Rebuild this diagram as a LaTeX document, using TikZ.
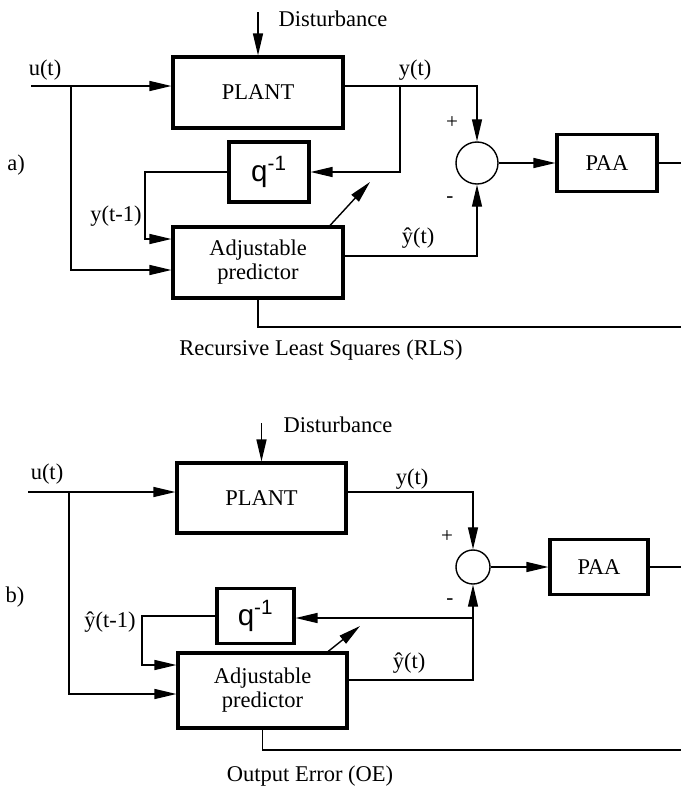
\documentclass[tikz,border=0pt]{standalone}
\usepackage{fontspec}
\setmainfont{Liberation Serif}
\setsansfont{Liberation Sans}
\usetikzlibrary{arrows.meta}
\tikzset{
  blk/.style={draw, line width=2.2pt, align=center, inner sep=0pt},
  lbl/.style={inner sep=0pt},
  sgn/.style={inner sep=0pt, font=\fontsize{15}{17}\selectfont},
  sumnode/.style={draw, circle, inner sep=0pt},
  qtext/.style={font=\fontsize{21}{24}\selectfont\sffamily},
}
\begin{document}
\begin{tikzpicture}[x=0.025cm, y=-0.025cm, line width=1pt, font=\fontsize{16}{17}\selectfont,
	>={Triangle[length=0.55cm,width=0.25cm]}]
	\useasboundingbox (0,0) rectangle (681,789);
	% a) recursive least squares
	\path
	(31,86) coordinate (uA)
	(71,86) coordinate (brA)
	(71,270) coordinate (lowA)
	(258,12) coordinate (dA)
	(400,86) coordinate (yjA)
	(145,239) coordinate (kA)
	(477,256) coordinate (hA)
	(370,182) coordinate (tA)
	(681,163) coordinate (oA)
	(681,327) coordinate (bA)
	;
	\node[blk, minimum width=4.25cm, minimum height=1.775cm] (plantA) at (258,92.5) {PLANT};
	\node[blk, minimum width=4.25cm, minimum height=1.775cm] (adjA) at (258,262.5) {Adjustable\\predictor};
	\node[blk, qtext, minimum width=2cm, minimum height=1.5cm] (qA) at (269,172) {q\textsuperscript{-1}};
	\node[sumnode, minimum size=1.05cm] (sumA) at (477,163) {};
	\node[blk, minimum width=2.5cm, minimum height=1.425cm] (paaA) at (607,163) {PAA};
	\draw[->] (dA) -- (plantA.north);
	\draw[->] (uA) -- (uA -| plantA.west);
	\draw[->] (brA) -- (lowA) -- (lowA -| adjA.west);
	\draw[->] (uA -| plantA.east) -| (sumA.north);
	\draw[->] (yjA) |- (qA.east);
	\draw[->] (qA.west) -| (kA) -- (kA -| adjA.west);
	\draw[->] ([xshift=1.8cm]adjA.north) -- (tA);
	\draw[->] (hA -| adjA.east) -- (hA) -- (sumA.south);
	\draw[->] (sumA.east) -- (paaA.west);
	\draw (paaA.east) -- (oA);
	\draw (adjA.south) |- (bA);
	\node[lbl, anchor=west] (disA) at (278,19) {Disturbance};
	\node[lbl] (ulA) at (45,70) {u(t)};
	\node[lbl] (ylA) at (415,70) {y(t)};
	\node[lbl] (y1A) at (116,216) {y(t-1)};
	\node[lbl] (yhA) at (418,238) {\^{y}(t)};
	\node[sgn] (pA) at (452,123) {+};
	\node[sgn] (mA) at (450,200) {-};
	\node[lbl] (tagA) at (16,165) {a)};
	\node[lbl] (capA) at (321,350) {Recursive Least Squares (RLS)};
	% b) output error
	\path
	(28,492) coordinate (uB)
	(69,492) coordinate (brB)
	(69,694) coordinate (lowB)
	(261.5,423) coordinate (dB)
	(473,618) coordinate (jB)
	(142,665) coordinate (kB)
	(473,680) coordinate (hB)
	(360,626) coordinate (tB)
	(681,567) coordinate (oB)
	(681,750) coordinate (bB)
	;
	\node[blk, minimum width=4.225cm, minimum height=1.75cm] (plantB) at (261.5,498) {PLANT};
	\node[blk, minimum width=4.225cm, minimum height=1.875cm] (adjB) at (262.5,690.5) {Adjustable\\predictor};
	\node[blk, qtext, minimum width=1.925cm, minimum height=1.375cm] (qB) at (255.5,616) {q\textsuperscript{-1}};
	\node[sumnode, minimum size=0.85cm] (sumB) at (473,567) {};
	\node[blk, minimum width=2.45cm, minimum height=1.375cm] (paaB) at (599,567) {PAA};
	\draw[->] (dB) -- (plantB.north);
	\draw[->] (uB) -- (uB -| plantB.west);
	\draw[->] (brB) -- (lowB) -- (lowB -| adjB.west);
	\draw[->] (uB -| plantB.east) -| (sumB.north);
	\draw[->] (hB -| adjB.east) -- (hB) -- (sumB.south);
	\draw[->] (jB) -- (jB -| qB.east);
	\draw[->] (qB.west) -| (kB) -- (kB -| adjB.west);
	\draw[->] ([xshift=1.64cm]adjB.north) -- (tB);
	\draw[->] (sumB.east) -- (paaB.west);
	\draw (paaB.east) -- (oB);
	\draw (adjB.south) |- (bB);
	\node[lbl, anchor=west] (disB) at (283,425) {Disturbance};
	\node[lbl] (ulB) at (47,474) {u(t)};
	\node[lbl] (ylB) at (412,479) {y(t)};
	\node[lbl] (y1B) at (110,622) {\^{y}(t-1)};
	\node[lbl] (yhB) at (409,663) {\^{y}(t)};
	\node[sgn] (pB) at (447,537) {+};
	\node[sgn] (mB) at (450,602) {-};
	\node[lbl] (tagB) at (15,597) {b)};
	\node[lbl] (capB) at (310,776) {Output Error (OE)};
\end{tikzpicture}
\end{document}
